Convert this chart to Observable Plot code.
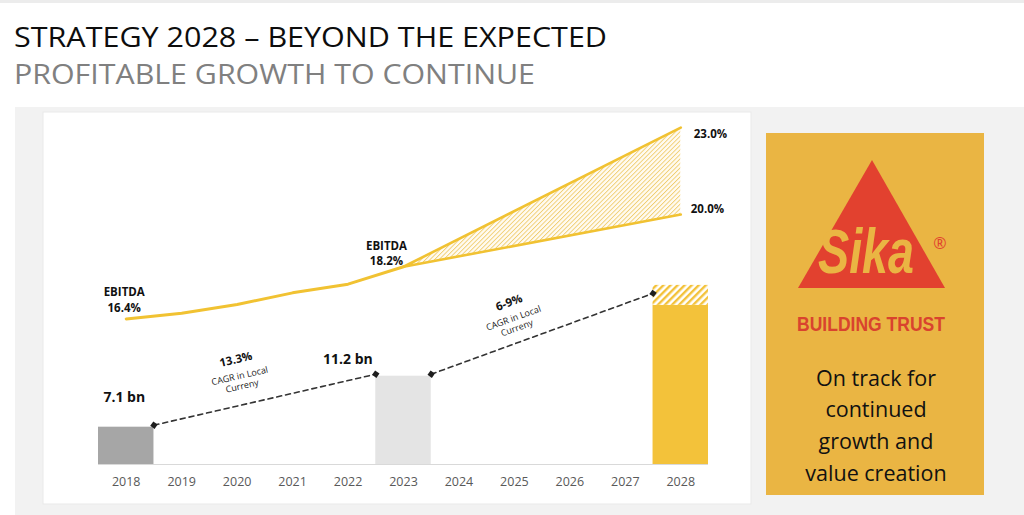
<!DOCTYPE html>
<html>
<head>
<meta charset="utf-8">
<script src="https://cdn.jsdelivr.net/npm/d3@7"></script>
<script src="https://cdn.jsdelivr.net/npm/@observablehq/plot@0.6"></script>
<style>
  html, body { margin: 0; padding: 0; background: #fff; width: 1024px; height: 515px; overflow: hidden; font-family: "Open Sans", sans-serif; }
  #bg { position: absolute; left: 0; top: 0; }
  .layer { position: absolute; left: 43px; top: 112px; }
</style>
</head>
<body>
<svg id="bg" width="1024" height="515" xmlns="http://www.w3.org/2000/svg">
  <rect x="0" y="0" width="1024" height="3" fill="#ececec"/>
  <text x="14" y="46.5" font-family="Open Sans" font-size="27" fill="#0d0d0d" textLength="593" lengthAdjust="spacingAndGlyphs">STRATEGY 2028 – BEYOND THE EXPECTED</text>
  <text x="14" y="83.5" font-family="Open Sans" font-size="27" fill="#808080" textLength="521" lengthAdjust="spacingAndGlyphs">PROFITABLE GROWTH TO CONTINUE</text>
  <rect x="15" y="107" width="1009" height="408" fill="#f2f2f2"/>
  <rect x="43" y="112" width="708" height="392" fill="#ffffff" stroke="#e9e9e9" stroke-width="1"/>
  <rect x="766" y="133" width="218" height="362" fill="#eab543"/>
  <polygon points="872,160 798,288 945,288" fill="#e2412f"/>
  <text transform="translate(866,273) scale(1,1.35)" text-anchor="middle" font-family="Liberation Sans" font-weight="bold" font-style="italic" font-size="47" fill="#eab543" textLength="96" lengthAdjust="spacingAndGlyphs">Sika</text>
  <text x="940" y="249" text-anchor="middle" font-family="Open Sans" font-size="16" fill="#e2412f">®</text>
  <text x="871" y="331" text-anchor="middle" font-family="Liberation Sans" font-weight="bold" font-size="19.5" fill="#d9432e" textLength="148" lengthAdjust="spacingAndGlyphs">BUILDING TRUST</text>
  <g font-family="Open Sans" font-size="21.5" fill="#111" text-anchor="middle">
    <text x="876" y="386">On track for</text>
    <text x="876" y="417">continued</text>
    <text x="876" y="449">growth and</text>
    <text x="876" y="481">value creation</text>
  </g>
</svg>
<div id="bars" class="layer"></div>
<div id="lines" class="layer"></div>
<script>
// ---- data ----
const years = [2018, 2019, 2020, 2021, 2022, 2023, 2024, 2025, 2026, 2027, 2028];
const barYears = [2018, 2023, 2028];
const barSales = [7.1, 11.2, 16.9];          // CHF bn (2028 = lower end of target)
const barLabels = ["7.1 bn", "11.2 bn", ""];
const sales2028Range = [16.9, 18.5];          // hatched 2028 range
const ebitdaYears = [2018, 2019, 2020, 2021, 2022, 2023];
const ebitdaMargin = [16.4, 16.6, 16.9, 17.3, 17.6, 18.2];
const fanYears = [2023, 2028];
const fanLow = [18.2, 20.0];
const fanHigh = [18.2, 23.0];
const cagrLabels = ["13.3%", "6-9%"];
const cagrNote = "CAGR in Local\nCurreny";

// ---- styles ----
const YELLOW = "#f3c23a";
const LINE_YELLOW = "#f1c232";
const barColors = ["#a6a6a6", "#e4e4e4", YELLOW];
const font = "Open Sans";

const bars = barYears.map((year, i) => ({year, sales: barSales[i], label: barLabels[i], color: barColors[i]}));
const hatch2028 = [{year: 2028, low: sales2028Range[0], high: sales2028Range[1]}];
const mid2028 = d3.mean(sales2028Range);
const connectors = [
  {seg: 0, x: barYears[0] + 0.5, y: barSales[0]},
  {seg: 0, x: barYears[1] - 0.5, y: barSales[1]},
  {seg: 1, x: barYears[1] + 0.5, y: barSales[1]},
  {seg: 1, x: barYears[2] - 0.5, y: mid2028}
];
const mids = [0, 1].map(s => {
  const pts = connectors.filter(d => d.seg === s);
  return {x: d3.mean(pts, d => d.x), y: d3.mean(pts, d => d.y), label: cagrLabels[s], note: cagrNote};
});

const common = {
  width: 708, height: 403,
  marginLeft: 55, marginRight: 43, marginTop: 0, marginBottom: 51,
  x: {domain: [years[0] - 0.5, years[years.length - 1] + 0.5]},
  style: {background: "transparent", overflow: "visible", fontFamily: font}
};

// ---- bars layer ----
const barPlot = Plot.plot({
  ...common,
  y: {domain: [4.1, 32.4], clamp: true, axis: null},
  marks: [
    Plot.rectY(bars, {x1: d => d.year - 0.5, x2: d => d.year + 0.5, y: "sales", fill: "color"}),
    Plot.rect(hatch2028, {x1: d => d.year - 0.5, x2: d => d.year + 0.5, y1: "low", y2: "high", fill: "url(#barHatch)"}),
    Plot.ruleY([0], {stroke: "#d9d9d9", strokeWidth: 1.2}),
    Plot.axisX(years, {tickSize: 0, tickPadding: 13, tickFormat: d => String(d), fontSize: 12.5, color: "#595959", label: null}),
    Plot.line(connectors, {x: "x", y: "y", z: "seg", stroke: "#333", strokeWidth: 1.6, strokeDasharray: "5,4", dy: -2}),
    Plot.dot(connectors, {x: "x", y: "y", symbol: "square", r: 3, fill: "#1e1e1e", rotate: 35, dy: -2}),
    Plot.text(bars.slice(0, 1), {x: "year", y: "sales", text: "label", fontWeight: "bold", fontSize: 14, fill: "#111", dx: -2, dy: -30}),
    Plot.text(bars.slice(1, 2), {x: d => d.year - 0.5, y: "sales", text: "label", textAnchor: "end", fontWeight: "bold", fontSize: 14, fill: "#111", dx: -3, dy: -17}),
    Plot.text(mids.slice(0, 1), {x: "x", y: "y", text: "label", rotate: -13, fontWeight: "bold", fontSize: 11.5, fill: "#111", dx: -29, dy: -42}),
    Plot.text(mids.slice(0, 1), {x: "x", y: "y", text: "note", rotate: -13, fontSize: 9, lineHeight: 1.15, fill: "#222", dx: -24, dy: -21}),
    Plot.text(mids.slice(1, 2), {x: "x", y: "y", text: "label", rotate: -20, fontWeight: "bold", fontSize: 11.5, fill: "#111", dx: -33, dy: -33}),
    Plot.text(mids.slice(1, 2), {x: "x", y: "y", text: "note", rotate: -20, fontSize: 9, lineHeight: 1.15, fill: "#222", dx: -27, dy: -13})
  ]
});
{
  const defs = d3.select(barPlot).insert("defs", ":first-child");
  const p = defs.append("pattern").attr("id", "barHatch").attr("patternUnits", "userSpaceOnUse")
    .attr("width", 5).attr("height", 5).attr("patternTransform", "rotate(45)");
  p.append("rect").attr("width", 5).attr("height", 5).attr("fill", "#fff");
  p.append("rect").attr("width", 2.4).attr("height", 5).attr("fill", YELLOW);
}
document.getElementById("bars").append(barPlot);

// ---- EBITDA margin layer ----
const ebitda = ebitdaYears.map((year, i) => ({year, m: ebitdaMargin[i]}));
const fan = fanYears.map((year, i) => ({year, low: fanLow[i], high: fanHigh[i]}));
const pct = v => `${v.toFixed(1)}%`;
const linePlot = Plot.plot({
  ...common,
  x: {...common.x, axis: null},
  y: {domain: [11.38, 23.52], axis: null},
  marks: [
    Plot.areaY(fan, {x: "year", y1: "low", y2: "high", fill: "url(#fanHatch)"}),
    Plot.line(fan, {x: "year", y: "high", stroke: LINE_YELLOW, strokeWidth: 2.6}),
    Plot.line(fan, {x: "year", y: "low", stroke: LINE_YELLOW, strokeWidth: 2.6}),
    Plot.line(ebitda, {x: "year", y: "m", stroke: LINE_YELLOW, strokeWidth: 3}),
    Plot.text(ebitda.slice(0, 1), {x: "year", y: "m", text: d => `EBITDA\n${pct(d.m)}`, fontWeight: "bold", fontSize: 11.5, lineHeight: 1.35, fill: "#111", dx: -2, dy: -20}),
    Plot.text(ebitda.slice(-1), {x: "year", y: "m", text: d => `EBITDA\n${pct(d.m)}`, fontWeight: "bold", fontSize: 11.5, lineHeight: 1.35, fill: "#111", dx: -17, dy: -14}),
    Plot.text(fan.slice(-1), {x: "year", y: "high", text: d => pct(d.high), textAnchor: "start", fontWeight: "bold", fontSize: 11.5, fill: "#111", dx: 13, dy: 7}),
    Plot.text(fan.slice(-1), {x: "year", y: "low", text: d => pct(d.low), textAnchor: "start", fontWeight: "bold", fontSize: 11.5, fill: "#111", dx: 10, dy: -5})
  ]
});
{
  const defs = d3.select(linePlot).insert("defs", ":first-child");
  const p = defs.append("pattern").attr("id", "fanHatch").attr("patternUnits", "userSpaceOnUse")
    .attr("width", 3.2).attr("height", 3.2).attr("patternTransform", "rotate(45)");
  p.append("rect").attr("width", 3.2).attr("height", 3.2).attr("fill", "#fffbf2");
  p.append("rect").attr("width", 0.9).attr("height", 3.2).attr("fill", "#f0cd6e");
}
document.getElementById("lines").append(linePlot);
</script>
</body>
</html>
